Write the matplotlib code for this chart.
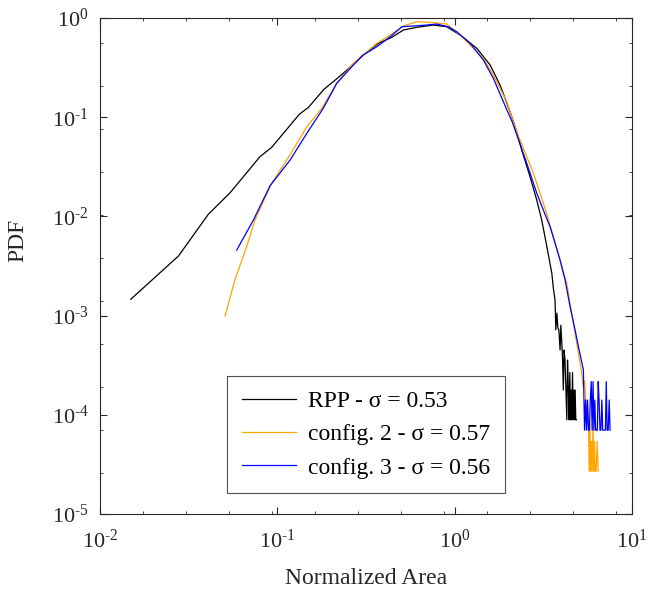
import matplotlib
matplotlib.use('Agg')
import matplotlib.pyplot as plt
from matplotlib.ticker import FixedLocator, NullFormatter, FuncFormatter
import numpy as np

plt.rcParams['font.family'] = ['Liberation Serif', 'DejaVu Serif']
plt.rcParams['mathtext.fontset'] = 'custom'
plt.rcParams['mathtext.rm'] = 'Liberation Serif'
plt.rcParams['mathtext.it'] = 'Liberation Serif:italic'
plt.rcParams['axes.unicode_minus'] = False

# RPP
rpp_x = [0.0149, 0.0277, 0.0408, 0.0541, 0.0798, 0.0929, 0.133, 0.150, 0.183, 0.218,
         0.241, 0.305, 0.372, 0.442, 0.514, 0.611, 0.759, 0.902, 1.072, 1.333,
         1.585, 1.803, 2.053, 2.239, 2.389, 2.661, 2.904, 3.097, 3.311, 3.532,
         3.60, 3.68, 3.72, 3.77, 3.82, 3.87, 3.93, 3.97, 4.02, 4.06,
         4.10, 4.14, 4.19, 4.24, 4.29, 4.33, 4.38, 4.42, 4.46, 4.50,
         4.54, 4.58, 4.62, 4.66, 4.70, 4.74, 4.78, 4.82, 4.85]
rpp_y = [1.46e-3, 3.99e-3, 1.05e-2, 1.73e-2, 4.0e-2, 4.97e-2, 0.107, 0.126, 0.191, 0.247,
         0.288, 0.424, 0.556, 0.639, 0.757, 0.806, 0.850, 0.817, 0.674, 0.495,
         0.336, 0.211, 0.1136, 0.0714, 0.0467, 0.0251, 0.0146, 9.2e-3, 4.95e-3, 2.67e-3,
         1.9e-3, 1.44e-3, 7.2e-4, 1.06e-3, 7.5e-4, 7.2e-4, 4.5e-4, 8e-4, 5.3e-4, 3.6e-4,
         1.78e-4, 4.5e-4, 3.56e-4, 1.78e-4, 8.9e-5, 3.56e-4, 1.78e-4, 8.9e-5, 2.67e-4, 8.9e-5,
         1.78e-4, 8.9e-5, 2.67e-4, 8.9e-5, 1.78e-4, 8.9e-5, 1.78e-4, 8.9e-5, 8.9e-5]

# config. 2
c2_x = [0.0507, 0.0576, 0.0671, 0.0748, 0.0929, 0.113, 0.1466, 0.178, 0.2163, 0.2685,
        0.364, 0.433, 0.514, 0.611, 0.759, 0.902, 1.072, 1.274, 1.452, 1.652,
        1.967, 2.239, 2.78, 3.304, 3.70, 4.285, 4.575, 5.097, 5.2, 5.3,
        5.40, 5.50, 5.56, 5.62, 5.68, 5.74, 5.79, 5.84, 5.90, 5.96,
        6.02, 6.08, 6.14, 6.20, 6.28, 6.36, 6.45]
c2_y = [9.9e-4, 2.29e-3, 4.95e-3, 9.2e-3, 2.16e-2, 3.70e-2, 8.0e-2, 0.123, 0.220, 0.349,
        0.556, 0.674, 0.831, 0.918, 0.897, 0.870, 0.674, 0.495, 0.392, 0.266,
        0.143, 0.0714, 0.0272, 0.0107, 5.3e-3, 2.12e-3, 1.05e-3, 3.3e-4, 2.7e-4, 1.9e-4,
        2.2e-4, 1.35e-4, 8.1e-5, 1.35e-4, 8.1e-5, 2.7e-5, 8.1e-5, 2.7e-5, 5.4e-5, 2.7e-5,
        8.1e-5, 2.7e-5, 5.4e-5, 2.7e-5, 2.7e-5, 5.4e-5, 2.7e-5]

# config. 3
c3_x = [0.0590, 0.0733, 0.0910, 0.118, 0.1466, 0.1815, 0.2163, 0.2685, 0.305, 0.364,
        0.433, 0.504, 0.585, 0.697, 0.792, 0.920, 1.028, 1.222, 1.452, 1.652,
        1.883, 2.12, 2.551, 2.904, 3.163, 3.451, 3.684, 3.929, 4.194, 4.477,
        4.777, 4.988, 5.32, 5.40, 5.47, 5.54, 5.61, 5.68, 5.75, 5.82,
        5.89, 5.96, 6.03, 6.10, 6.17, 6.24, 6.31, 6.38, 6.45, 6.52,
        6.60, 6.68, 6.76, 6.84, 6.92, 7.00, 7.08, 7.16, 7.24, 7.34,
        7.44, 7.52]
c3_y = [4.58e-3, 9.2e-3, 2.04e-2, 3.70e-2, 6.88e-2, 0.123, 0.220, 0.336, 0.424, 0.514,
        0.648, 0.817, 0.831, 0.850, 0.870, 0.817, 0.727, 0.556, 0.377, 0.247,
        0.143, 0.088, 0.0343, 0.0171, 0.0116, 7.87e-3, 5.36e-3, 3.63e-3, 2.29e-3, 1.23e-3,
        7.16e-4, 4.86e-4, 2.83e-4, 7e-5, 1.41e-4, 7e-5, 1.41e-4, 7e-5, 7e-5, 1.41e-4,
        2.16e-4, 7e-5, 2.16e-4, 7e-5, 1.41e-4, 7e-5, 7e-5, 7e-5, 2.16e-4, 1.41e-4,
        7e-5, 7e-5, 1.41e-4, 7e-5, 7e-5, 7e-5, 7e-5, 2.16e-4, 7e-5, 7e-5,
        1.41e-4, 7e-5]

labels = ['RPP - σ = 0.53', 'config. 2 - σ = 0.57', 'config. 3 - σ = 0.56']
colors = ['black', '#FFA500', '#0000FF']


def pow10(v, pos):
    e = str(int(round(np.log10(v)))).replace('-', '\u2010')
    return '$\\mathdefault{10^{' + e + '}}$'


fig = plt.figure(figsize=(6.49, 5.97), dpi=100)
ax = fig.add_axes([0.1541, 0.139, 0.8197, 0.8308])

ax.plot(rpp_x, rpp_y, color=colors[0], lw=0.9, label=labels[0])
ax.plot(c2_x, c2_y, color=colors[1], lw=0.9, label=labels[1])
ax.plot(c3_x, c3_y, color=colors[2], lw=0.9, label=labels[2])

ax.set_xscale('log')
ax.set_yscale('log')
ax.set_xlim(1e-2, 1e1)
ax.set_ylim(1e-5, 1e0)
ax.set_xticks([1e-2, 1e-1, 1e0, 1e1])
ax.set_yticks([1e-5, 1e-4, 1e-3, 1e-2, 1e-1, 1e0])
ax.xaxis.set_major_formatter(FuncFormatter(pow10))
ax.yaxis.set_major_formatter(FuncFormatter(pow10))

# odd evenly spaced minor ticks seen in the original
ax.xaxis.set_minor_locator(FixedLocator(10 ** (-2 + 0.2425 * np.arange(1, 13))))
ax.yaxis.set_minor_locator(FixedLocator(10 ** -(0.252 + 0.4335 * np.arange(0, 12))))
ax.xaxis.set_minor_formatter(NullFormatter())
ax.yaxis.set_minor_formatter(NullFormatter())

ax.tick_params(which='major', direction='in', length=5, width=0.8, top=True, right=True,
               labelsize=16, colors='#262626', pad=8)
ax.tick_params(axis='x', which='major', pad=11)
ax.tick_params(which='minor', direction='in', length=2, width=0.6, top=True, right=True,
               colors='#262626')
for s in ax.spines.values():
    s.set_color('#262626')
    s.set_linewidth(0.8)

ax.set_xlabel('Normalized Area', fontsize=17, color='#262626')
ax.set_ylabel('PDF', fontsize=17, color='#262626')
ax.xaxis.set_label_coords(0.5, -0.109)
ax.yaxis.set_label_coords(-0.135, 0.552)

leg = ax.legend(loc='lower left', bbox_to_anchor=(0.239, 0.042), borderaxespad=0,
                fontsize=17, frameon=True, fancybox=False, edgecolor='#262626',
                handlelength=2.3, handletextpad=0.5, labelspacing=0.5, borderpad=0.62)
leg.get_frame().set_linewidth(0.8)

fig.savefig('out.png', dpi=100)
